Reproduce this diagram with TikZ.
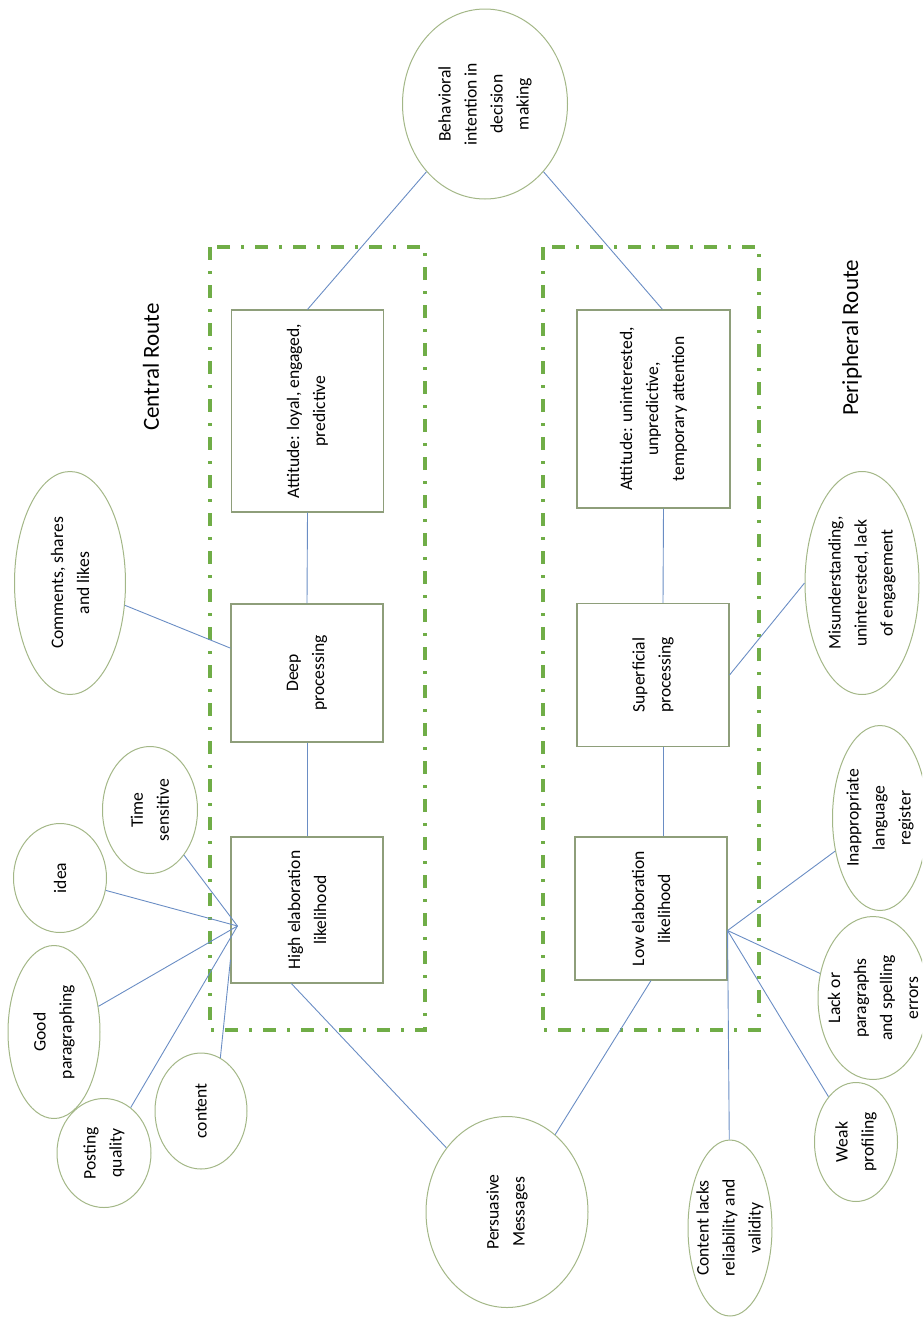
\documentclass[tikz,border=0pt]{standalone}
\usepackage{fontspec}
\setmainfont{Carlito}
\usetikzlibrary{shapes.geometric,calc}
\definecolor{routegreen}{HTML}{70AD47}
\definecolor{boxline}{HTML}{8E9E7A}
\definecolor{ovalline}{HTML}{A3B787}
\definecolor{linkblue}{HTML}{6A8DC4}

\begin{document}
\begin{tikzpicture}[x=1pt,y=-1pt,font=\fontsize{17.6}{26}\selectfont,
 vtxt/.style={rotate=90,align=center,inner sep=0pt,text=black},
 txt/.style={label={[vtxt]center:{#1}}},
 box/.style={draw=boxline,line width=1.1pt,minimum width=152pt},
 oval/.style={ellipse,draw=ovalline,line width=1pt,inner sep=0pt},
 route/.style={draw=routegreen,line width=3.6pt,dash pattern=on 13pt off 11pt on 3pt off 11pt},
 link/.style={linkblue,line width=.9pt},
 title/.style={rotate=90,font=\fontsize{23}{28}\selectfont,text=black}]
\path[use as bounding box] (0,0) rectangle (922,1318);
\clip (0,0) rectangle (922,1318);
% the two routes
\draw[route] (210,247) rectangle (425,1030);
\draw[route] (543,247) rectangle (759,1030);
\node[title] (central) at (151,367) {Central Route};
\node[title] (peripheral) at (852,338) {Peripheral Route};
% central route boxes
\node[box,minimum height=202pt,txt={Attitude: loyal, engaged,\\predictive}] (attc) at (307.5,411) {};
\node[box,minimum height=138pt,txt={Deep\\processing}] (deep) at (307,673) {};
\node[box,minimum height=146pt,txt={High elaboration\\likelihood}] (high) at (307,910) {};
% peripheral route boxes
\node[box,minimum width=153pt,minimum height=198pt,txt={Attitude: uninterested,\\unpredictive,\\temporary attention}] (attp) at (653.5,409) {};
\node[box,minimum height=143pt,txt={Superficial\\processing}] (sup) at (653,675) {};
\node[box,minimum height=143pt,txt={Low elaboration\\likelihood}] (low) at (651,908.5) {};
% ovals
\node[oval,minimum width=165pt,minimum height=190pt,txt={Behavioral\\intention in\\decision\\making}] (intent) at (485,104) {};
\node[oval,minimum width=111pt,minimum height=223pt,txt={Comments, shares\\and likes}] (social) at (70,583) {};
\node[oval,minimum width=95pt,minimum height=127pt,txt={Time\\sensitive}] (time) at (150,810) {};
\node[oval,minimum width=93pt,minimum height=109pt,txt={idea}] (idea) at (60,878) {};
\node[oval,minimum width=92pt,minimum height=173pt,txt={Good\\paragraphing}] (para) at (54,1032) {};
\node[oval,minimum width=94pt,minimum height=109pt,txt={Posting\\quality}] (posting) at (104,1153) {};
\node[oval,minimum width=92pt,minimum height=116pt,txt={content}] (content) at (201,1111) {};
\node[oval,minimum width=162pt,minimum height=191pt,txt={Persuasive\\Messages}] (persuade) at (507,1212) {};
\node[oval,minimum width=84pt,minimum height=176pt,txt={Content lacks\\reliability and\\validity}] (reliab) at (730,1228) {};
\node[oval,minimum width=83pt,minimum height=119pt,txt={Weak\\profiling}] (weak) at (856,1142) {};
\node[oval,minimum width=110pt,minimum height=163pt,txt={Lack or\\paragraphs\\and spelling\\errors}] (spelling) at (873,998) {};
\node[oval,minimum width=95pt,minimum height=185pt,txt={Inappropriate\\language\\register}] (register) at (880,818) {};
\node[oval,minimum width=114pt,minimum height=223pt,txt={Misunderstanding,\\uninterested, lack\\of engagement}] (misund) at (862,583) {};
\coordinate (hfan) at ($(high.west)+(7,16)$);
\coordinate (lfan) at ($(low.east)+(0,22)$);
% connectors
\draw[link] (intent) -- (attc.north);
\draw[link] (intent) -- ([xshift=9pt]attp.north);
\draw[link] (attc.south) -- (deep.north);
\draw[link] (deep.south) -- (high.north);
\draw[link] ([xshift=10pt]attp.south) -- ([xshift=10pt]sup.north);
\draw[link] ([xshift=10pt]sup.south) -- ([xshift=12pt]low.north);
\draw[link] (social) -- (deep.162);
\draw[link] (sup.east) -- (misund.west);
\foreach \n in {time,idea,para,posting} \draw[link] (\n) -- (hfan);
\draw[link] (content.70) -- (high.213);
\draw[link] (high.258) -- (persuade);
\draw[link] (low.south) -- (persuade);
\foreach \n in {register,spelling,weak,reliab} \draw[link] (lfan) -- (\n);
\end{tikzpicture}
\end{document}
